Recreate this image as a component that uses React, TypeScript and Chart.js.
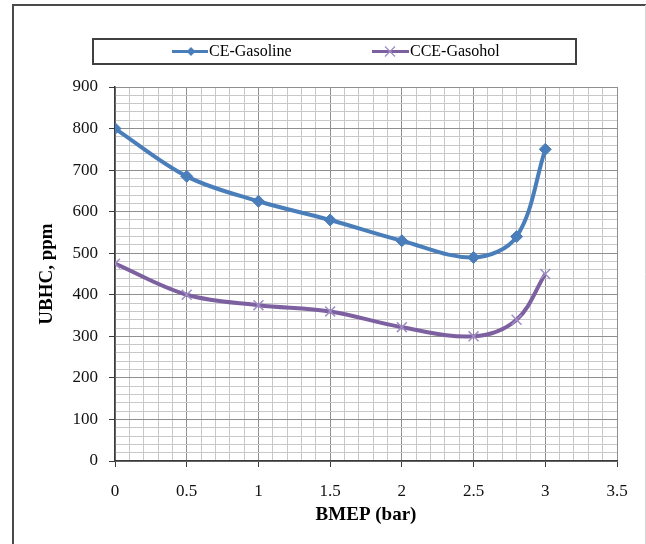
import React, { useEffect, useRef } from "react";
import { Chart, registerables } from "chart.js";

Chart.register(...registerables);

// ---- data ----
const bmep = [0, 0.5, 1, 1.5, 2, 2.5, 2.8, 3];
const ceGasoline = [800, 685, 625, 580, 530, 490, 540, 750];
const cceGasohol = [475, 400, 375, 360, 322, 300, 340, 450];
const seriesNames = ["CE-Gasoline", "CCE-Gasohol"];
const xTitle = "BMEP (bar)";
const yTitle = "UBHC, ppm";
const xMin = 0;
const xMax = 3.5;
const xMinorStep = 0.1;
const xMajorStep = 0.5;
const yMin = 0;
const yMax = 900;
const yMinorStep = 20;
const yMajorStep = 100;

const SERIF = "'Liberation Serif', 'Times New Roman', serif";
const BLUE = "#4a7ebb";
const PURPLE = "#7d60a0";
const PURPLE_MARK = "#a08dc6";
const GRID_MINOR = "#c8c8c8";
const GRID_MAJOR = "#8f8f8f";
const AXIS = "#3a3a3a";

const isMultiple = (v: number, step: number) =>
  Math.abs(v / step - Math.round(v / step)) < 1e-6;

const frameAndLegend = {
  id: "frameAndLegend",
  beforeDraw(chart: any) {
    const ctx = chart.ctx;
    ctx.save();
    ctx.fillStyle = "#ffffff";
    ctx.fillRect(0, 0, chart.width, chart.height);
    ctx.restore();
  },
  afterDraw(chart: any) {
    const ctx = chart.ctx;
    ctx.save();
    // outer frame
    ctx.strokeStyle = "#4a4a4a";
    ctx.lineWidth = 2;
    ctx.beginPath();
    ctx.moveTo(13, chart.height);
    ctx.lineTo(13, 5);
    ctx.lineTo(chart.width, 5);
    ctx.stroke();
    ctx.strokeStyle = "#d4d4d4";
    ctx.lineWidth = 1;
    ctx.beginPath();
    ctx.moveTo(645.5, 5);
    ctx.lineTo(645.5, chart.height);
    ctx.stroke();

    // legend box
    ctx.strokeStyle = "#404040";
    ctx.lineWidth = 2;
    ctx.strokeRect(93, 39, 483, 25);

    const ds = chart.data.datasets;
    const cy = 51.5;
    const items = [
      { x0: 172, x1: 208, mx: 191, tx: 209 },
      { x0: 372, x1: 409, mx: 390, tx: 410 },
    ];
    ctx.font = "16px " + SERIF;
    ctx.textBaseline = "middle";
    ctx.textAlign = "left";
    items.forEach((it, i) => {
      const d = ds[i];
      ctx.strokeStyle = d.borderColor;
      ctx.lineWidth = 3;
      ctx.beginPath();
      ctx.moveTo(it.x0, cy);
      ctx.lineTo(it.x1, cy);
      ctx.stroke();
      if (i === 0) {
        ctx.fillStyle = d.pointBackgroundColor;
        const r = 4.5;
        ctx.beginPath();
        ctx.moveTo(it.mx, cy - r);
        ctx.lineTo(it.mx + r, cy);
        ctx.lineTo(it.mx, cy + r);
        ctx.lineTo(it.mx - r, cy);
        ctx.closePath();
        ctx.fill();
      } else {
        ctx.strokeStyle = d.pointBorderColor;
        ctx.lineWidth = 1.3;
        const r = 5;
        ctx.beginPath();
        ctx.moveTo(it.mx - r, cy - r);
        ctx.lineTo(it.mx + r, cy + r);
        ctx.moveTo(it.mx + r, cy - r);
        ctx.lineTo(it.mx - r, cy + r);
        ctx.stroke();
      }
      ctx.fillStyle = "#000000";
      ctx.fillText(d.label, it.tx, cy);
    });
    ctx.restore();
  },
};

export default function App() {
  const ref = useRef<HTMLCanvasElement | null>(null);

  useEffect(() => {
    if (!ref.current) return;
    const toPts = (ys: number[]) => bmep.map((x, i) => ({ x, y: ys[i] }));
    const chart = new Chart(ref.current, {
      type: "line",
      data: {
        datasets: [
          {
            label: seriesNames[0],
            data: toPts(ceGasoline),
            borderColor: BLUE,
            backgroundColor: BLUE,
            borderWidth: 4,
            pointStyle: "rectRot",
            pointRadius: 6,
            pointBackgroundColor: BLUE,
            pointBorderColor: BLUE,
            pointBorderWidth: 1,
            tension: 0.35,
            fill: false,
          },
          {
            label: seriesNames[1],
            data: toPts(cceGasohol),
            borderColor: PURPLE,
            backgroundColor: PURPLE,
            borderWidth: 4,
            pointStyle: "crossRot",
            pointRadius: 7,
            pointBackgroundColor: PURPLE_MARK,
            pointBorderColor: PURPLE_MARK,
            pointBorderWidth: 1.5,
            tension: 0.35,
            fill: false,
          },
        ],
      },
      options: {
        responsive: false,
        animation: false,
        events: [],
        layout: { padding: { left: 0, top: 87, right: 29, bottom: 0 } },
        plugins: {
          legend: { display: false },
          tooltip: { enabled: false },
        },
        scales: {
          x: {
            type: "linear",
            min: xMin,
            max: xMax,
            afterFit: (s: any) => {
              s.height = 83;
            },
            ticks: {
              stepSize: xMinorStep,
              autoSkip: false,
              maxRotation: 0,
              minRotation: 0,
              padding: 14,
              color: "#111111",
              font: { family: SERIF, size: 17 },
              callback: (v: any) =>
                isMultiple(Number(v), xMajorStep)
                  ? String(Math.round(Number(v) * 10) / 10)
                  : "",
            },
            grid: {
              color: (c: any) =>
                isMultiple(c.tick.value, xMajorStep) ? GRID_MAJOR : GRID_MINOR,
              tickColor: (c: any) =>
                isMultiple(c.tick.value, xMajorStep) ? AXIS : "rgba(0,0,0,0)",
              tickLength: 6,
              lineWidth: 1,
            },
            border: { color: AXIS, width: 1.5 },
            title: {
              display: true,
              text: xTitle,
              color: "#000000",
              font: { family: SERIF, size: 19, weight: "bold" },
              padding: { top: 0, bottom: 18 },
            },
          },
          y: {
            type: "linear",
            min: yMin,
            max: yMax,
            afterFit: (s: any) => {
              s.width = 115;
            },
            ticks: {
              stepSize: yMinorStep,
              autoSkip: false,
              padding: 11,
              color: "#111111",
              font: { family: SERIF, size: 17 },
              callback: (v: any) =>
                isMultiple(Number(v), yMajorStep) ? String(Math.round(Number(v))) : "",
            },
            grid: {
              color: (c: any) =>
                isMultiple(c.tick.value, yMajorStep) ? GRID_MAJOR : GRID_MINOR,
              tickColor: (c: any) =>
                isMultiple(c.tick.value, yMajorStep) ? AXIS : "rgba(0,0,0,0)",
              tickLength: 6,
              lineWidth: 1,
            },
            border: { color: AXIS, width: 1.5 },
            title: {
              display: true,
              text: yTitle,
              color: "#000000",
              font: { family: SERIF, size: 19, weight: "bold" },
              padding: { top: 36, bottom: 0 },
            },
          },
        },
      },
      plugins: [frameAndLegend],
    } as any);
    return () => chart.destroy();
  }, []);

  return (
    <div style={{ position: "absolute", left: 0, top: 0, width: 646, height: 544 }}>
      <canvas ref={ref} width={646} height={544} style={{ display: "block" }} />
    </div>
  );
}
